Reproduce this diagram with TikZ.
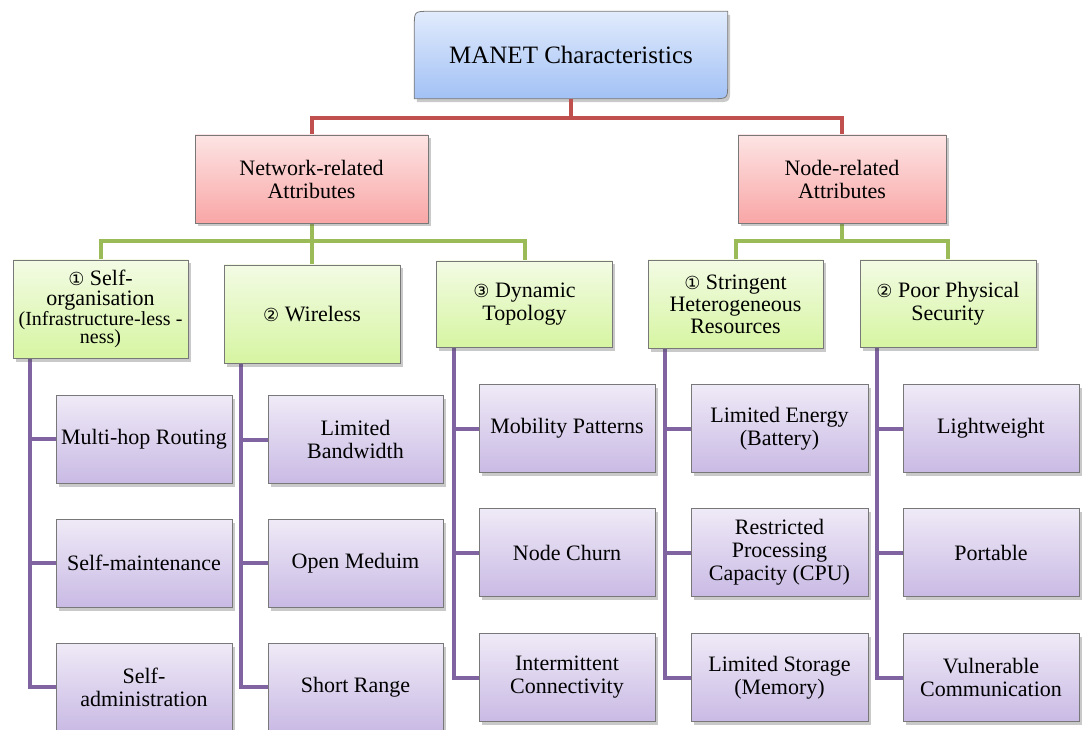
\documentclass[tikz,border=0pt]{standalone}
\usepackage{fontspec}
\setmainfont{Liberation Serif}
\newfontfamily\bodyfont{Liberation Serif}
\newfontfamily\circfont{DejaVu Sans}
\usetikzlibrary{shadows,backgrounds}

\definecolor{boxline}{RGB}{120,120,120}
\definecolor{bluetop}{RGB}{225,235,252}
\definecolor{bluebot}{RGB}{162,193,245}
\definecolor{redtop}{RGB}{253,228,228}
\definecolor{redbot}{RGB}{249,166,166}
\definecolor{grntop}{RGB}{243,251,228}
\definecolor{grnbot}{RGB}{214,245,162}
\definecolor{purtop}{RGB}{239,234,247}
\definecolor{purbot}{RGB}{201,186,228}
\definecolor{redlink}{RGB}{192,80,77}
\definecolor{grnlink}{RGB}{155,187,89}
\definecolor{purlink}{RGB}{128,100,162}

% circled item numbers
\newcommand\cnum[1]{{\circfont\fontsize{18}{18}\selectfont #1}}

\begin{document}
\begin{tikzpicture}[x=1pt,y=-1pt,
  softshadow/.style={drop shadow={shadow xshift=2.5pt,shadow yshift=-3.5pt,opacity=.3,fill=black!70}},
  box/.style={draw=boxline,line width=0.8pt,inner sep=0pt,align=center,
    font=\bodyfont\fontsize{22}{23}\selectfont,softshadow},
  netbox/.style={box,top color=redtop,bottom color=redbot,minimum height=88pt},
  grnbox/.style={box,top color=grntop,bottom color=grnbot,minimum width=176pt,minimum height=88pt},
  purbox/.style={box,top color=purtop,bottom color=purbot,minimum width=176pt,minimum height=88pt},
  link/.style={line width=4pt},
  redline/.style={link,draw=redlink},
  grnline/.style={link,draw=grnlink},
  purline/.style={link,draw=purlink},
]
\clip (0,0) rectangle (1082,730);

% root
\node[inner sep=0pt,minimum width=313pt,minimum height=87pt,
      font=\bodyfont\fontsize{25}{28}\selectfont] (root) at (571,55) {MANET Characteristics};

% second level
\node[netbox,minimum width=233pt] (net) at (311.5,179) {Network-related\\Attributes};
\node[netbox,minimum width=208pt] (nod) at (842,179) {Node-related\\Attributes};

% third level
\node[grnbox,minimum width=175pt,minimum height=98pt] (g1) at (100.5,309)
  {\cnum{①} Self-\\[-3pt]organisation\\[-3pt]\fontsize{20}{20}\selectfont(Infrastructure-less -\\[-5pt]\fontsize{20}{20}\selectfont ness)};
\node[grnbox,minimum height=98pt] (g2) at (312,314) {\cnum{②} Wireless};
\node[grnbox,minimum height=86pt] (g3) at (524.5,304) {\cnum{③} Dynamic\\Topology};
\node[grnbox,minimum width=175pt] (g4) at (735.5,304) {\cnum{①} Stringent\\[-1pt]Heterogeneous\\[-1pt]Resources};
\node[grnbox,minimum height=87pt] (g5) at (948,303.5) {\cnum{②} Poor Physical\\Security};

% leaves
\node[purbox] (a1) at (144,439) {Multi-hop Routing};
\node[purbox] (a2) at (144,563) {Self-maintenance};
\node[purbox] (a3) at (144,687) {Self-\\administration};

\node[purbox,minimum width=175pt] (b1) at (355.5,439.5) {Limited\\Bandwidth};
\node[purbox,minimum width=175pt] (b2) at (355.5,563) {Open Meduim};
\node[purbox,minimum width=175pt] (b3) at (355.5,687) {Short Range};

\node[purbox] (c1) at (567,428.5) {Mobility Patterns};
\node[purbox] (c2) at (567,552.5) {Node Churn};
\node[purbox] (c3) at (567,677.5) {Intermittent\\Connectivity};

\node[purbox,minimum width=177pt] (d1) at (779.5,428.5) {Limited Energy\\(Battery)};
\node[purbox,minimum width=177pt] (d2) at (779.5,552.5) {Restricted\\Processing\\Capacity (CPU)};
\node[purbox,minimum width=177pt] (d3) at (779.5,677.5) {Limited Storage\\(Memory)};

\node[purbox] (e1) at (991,428.5) {Lightweight};
\node[purbox] (e2) at (991,552.5) {Portable};
\node[purbox] (e3) at (991,677.5) {Vulnerable\\Communication};

\begin{scope}[on background layer]
  % root frame with two rounded diagonal corners
  \draw[draw=boxline,line width=0.8pt,top color=bluetop,bottom color=bluebot,softshadow]
    (root.north east) -- ([yshift=15pt]root.south east)
    .. controls (root.south east) .. ([xshift=-15pt]root.south east)
    -- (root.south west) -- ([yshift=-15pt]root.north west)
    .. controls (root.north west) .. ([xshift=15pt]root.north west) -- cycle;

  \draw[redline] (root.south) -- ++(0,19) -| (net.north);
  \draw[redline] (root.south) -- ++(0,19) -| (nod.north);

  \draw[grnline] (net.south) -- ++(0,18) -| (g1.north);
  \draw[grnline] (net.south) -- ++(0,18) -| (g2.north);
  \draw[grnline] (net.south) -- ++(0,18) -| (g3.north);
  \draw[grnline] (nod.south) -- ++(0,18) -| (g4.north);
  \draw[grnline] (nod.south) -- ++(0,18) -| (g5.north);

  \foreach \g/\c in {g1/a,g2/b,g3/c,g4/d,g5/e}
    \foreach \r in {1,2,3}
      \draw[purline] ([xshift=17.5pt]\g.south west) |- (\c\r.west);
\end{scope}
\end{tikzpicture}
\end{document}
